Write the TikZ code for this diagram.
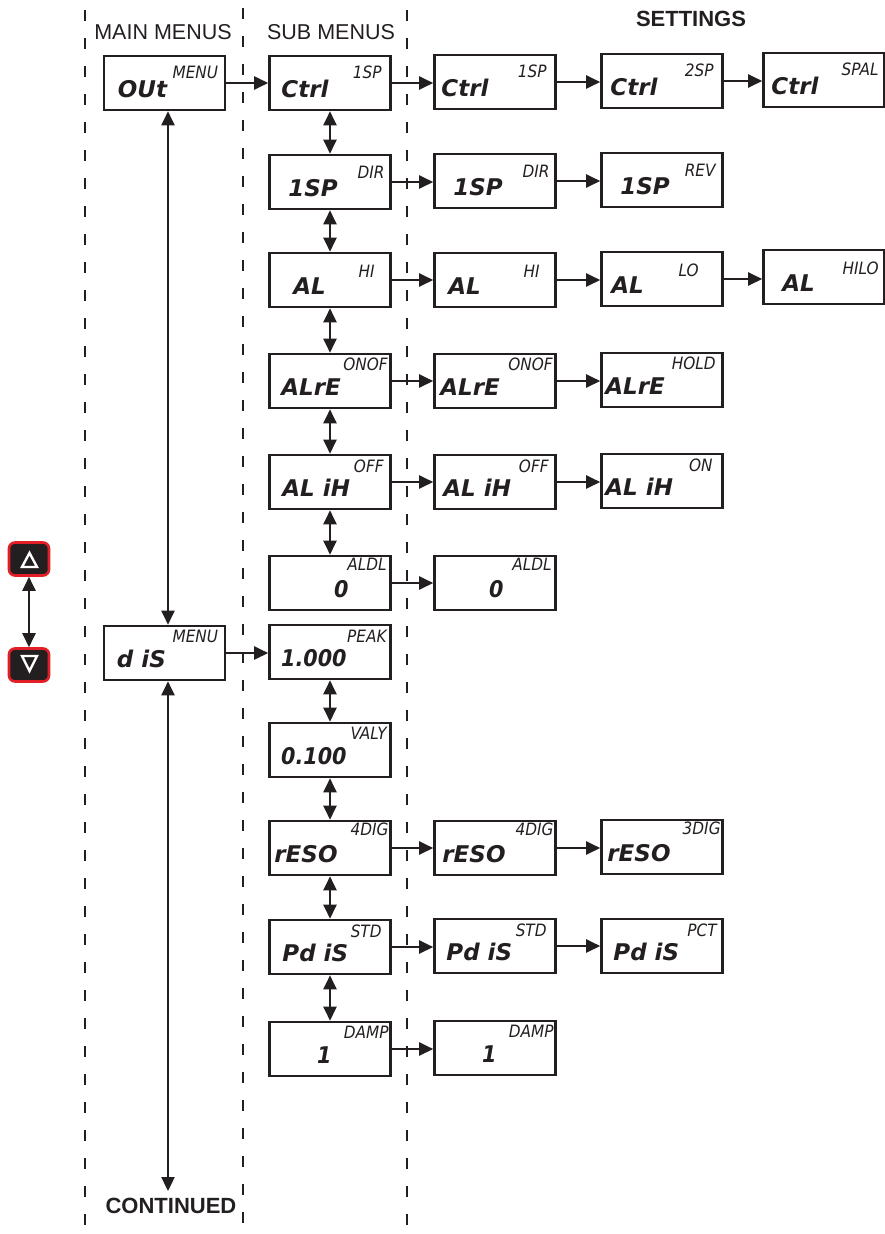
\documentclass[tikz,border=0pt]{standalone}
\usepackage{fontspec}
\setmainfont{Liberation Sans}
\newfontfamily\segfont{DejaVu Sans}
\newfontfamily\labfont{DejaVu Sans Condensed}
\usetikzlibrary{arrows.meta}
\definecolor{ink}{HTML}{231F20}
\definecolor{btnred}{HTML}{E21F26}
\tikzset{
  dbox/.style={draw=ink, line width=2.6pt, minimum width=121pt, minimum height=54pt, inner sep=0pt},
  dmain/.style={inner sep=0pt, text=ink, font=\segfont\bfseries\itshape\fontsize{23}{23}\selectfont},
  dnum/.style={inner sep=0pt, text=ink, font=\labfont\bfseries\itshape\fontsize{23}{23}\selectfont},
  dlab/.style={inner sep=0pt, text=ink, font=\labfont\itshape\fontsize{17}{17}\selectfont},
  conn/.style={draw=ink, line width=2.3pt, -{Triangle[length=14pt,width=13pt]}},
  dconn/.style={draw=ink, line width=2.3pt, {Triangle[length=14pt,width=13pt]}-{Triangle[length=14pt,width=13pt]}},
  vdash/.style={draw=ink, line width=2.8pt, dash pattern=on 11pt off 17pt},
  header/.style={inner sep=0pt, text=ink, font=\fontsize{21.5}{21.5}\selectfont},
  bheader/.style={inner sep=0pt, text=ink, font=\bfseries\fontsize{22}{22}\selectfont},
  btn/.style={draw=btnred, fill=ink, line width=2.6pt, rounded corners=6pt, minimum width=40pt, minimum height=33pt, inner sep=0pt},
  tri/.style={draw=white, line width=2.4pt, line join=miter}
}
% name, x, y, main, label, main x offset from left, label offset from right, label offset from top
\newcommand{\dboxL}[8]{%
  \node[dbox] (#1) at (#2,#3) {};
  \node[dmain, anchor=base west] (#1-m) at ([xshift=#6pt,yshift=14pt]#1.south west) {#4};
  \node[dlab, anchor=north east] (#1-l) at ([xshift=-#7pt,yshift=-#8pt]#1.north east) {#5};
}
% numeric display: main text right-aligned, x offset measured from right edge
\newcommand{\dboxR}[8]{%
  \node[dbox] (#1) at (#2,#3) {};
  \node[dnum, anchor=base east] (#1-m) at ([xshift=-#6pt,yshift=14pt]#1.south east) {#4};
  \node[dlab, anchor=north east] (#1-l) at ([xshift=-#7pt,yshift=-#8pt]#1.north east) {#5};
}
\begin{document}
\begin{tikzpicture}[x=1pt,y=-1pt]
\useasboundingbox (0,0) rectangle (885,1234);

% dashed column separators
\coordinate (d1t) at (85,10);  \coordinate (d1b) at (85,1234);
\coordinate (d2t) at (243,8);  \coordinate (d2b) at (243,1234);
\coordinate (d3t) at (407,10); \coordinate (d3b) at (407,1234);
\draw[vdash] (d1t) -- (d1b);
\draw[vdash] (d2t) -- (d2b);
\draw[vdash] (d3t) -- (d3b);

% headers
\node[header, anchor=base] (hmain) at (163,39) {MAIN MENUS};
\node[header, anchor=base] (hsub) at (331,39) {SUB MENUS};
\node[bheader, anchor=base] (hset) at (691,27) {SETTINGS};

% main menus
\dboxL{out}{164.5}{83}{OUt}{MENU}{15}{8}{11}
\dboxL{dis}{164.5}{653}{d iS}{MENU}{14}{8}{5}

% sub menus
\dboxL{s1}{330}{83}{Ctrl}{1SP}{13}{10}{11}
\dboxL{s2}{330}{182}{1SP}{DIR}{20}{7}{12}
\dboxL{s3}{330}{280}{AL}{HI}{25}{17}{13}
\dboxL{s4}{330}{381}{ALrE}{ONOF}{13}{4}{5}
\dboxL{s5}{330}{482}{AL iH}{OFF}{14}{8}{6}
\dboxR{s6}{330}{583}{0}{ALDL}{43}{5}{3}
\dboxR{s7}{330}{652}{1.000}{PEAK}{45}{5}{6}
\dboxR{s8}{330}{750}{0.100}{VALY}{45}{5}{5}
\dboxL{s9}{330}{848}{rESO}{4DIG}{6}{3}{3}
\dboxL{s10}{330}{947}{Pd iS}{STD}{14}{10}{6}
\dboxR{s11}{330}{1049}{1}{DAMP}{60}{3}{5}

% settings column 1
\dboxL{a1}{495}{82}{Ctrl}{1SP}{8}{10}{11}
\dboxL{a2}{495}{181}{1SP}{DIR}{20}{7}{12}
\dboxL{a3}{495}{280}{AL}{HI}{15}{17}{13}
\dboxL{a4}{495}{381}{ALrE}{ONOF}{7}{4}{5}
\dboxL{a5}{495}{482}{AL iH}{OFF}{10}{8}{6}
\dboxR{a6}{495}{583}{0}{ALDL}{53}{5}{3}
\dboxL{a9}{495}{848}{rESO}{4DIG}{9}{3}{3}
\dboxL{a10}{495}{946}{Pd iS}{STD}{13}{10}{6}
\dboxR{a11}{495}{1048}{1}{DAMP}{60}{3}{5}

% settings column 2
\dboxL{b1}{662}{81}{Ctrl}{2SP}{10}{10}{11}
\dboxL{b2}{662}{180}{1SP}{REV}{20}{8}{12}
\dboxL{b3}{662}{279}{AL}{LO}{11}{25}{13}
\dboxL{b4}{662}{380}{ALrE}{HOLD}{5}{8}{5}
\dboxL{b5}{662}{481}{AL iH}{ON}{5}{11}{6}
\dboxL{b9}{662}{847}{rESO}{3DIG}{7}{3}{3}
\dboxL{b10}{662}{946}{Pd iS}{PCT}{13}{7}{6}

% settings column 3
\dboxL{c1}{824}{80}{Ctrl}{SPAL}{9}{7}{11}
\dboxL{c3}{824}{277}{AL}{HILO}{20}{7}{13}

% horizontal connectors
\draw[conn] (out.east) -- (out.east -| s1.west);
\draw[conn] (dis.east) -- (dis.east -| s7.west);
\draw[conn] (s1.east) -- (s1.east -| a1.west);
\draw[conn] (a1.east) -- (a1.east -| b1.west);
\draw[conn] (b1.east) -- (b1.east -| c1.west);
\draw[conn] (s2.east) -- (s2.east -| a2.west);
\draw[conn] (a2.east) -- (a2.east -| b2.west);
\draw[conn] (s3.east) -- (s3.east -| a3.west);
\draw[conn] (a3.east) -- (a3.east -| b3.west);
\draw[conn] (b3.east) -- (b3.east -| c3.west);
\draw[conn] (s4.east) -- (s4.east -| a4.west);
\draw[conn] (a4.east) -- (a4.east -| b4.west);
\draw[conn] (s5.east) -- (s5.east -| a5.west);
\draw[conn] (a5.east) -- (a5.east -| b5.west);
\draw[conn] (s6.east) -- (s6.east -| a6.west);
\draw[conn] (s9.east) -- (s9.east -| a9.west);
\draw[conn] (a9.east) -- (a9.east -| b9.west);
\draw[conn] (s10.east) -- (s10.east -| a10.west);
\draw[conn] (a10.east) -- (a10.east -| b10.west);
\draw[conn] (s11.east) -- (s11.east -| a11.west);

% vertical connectors in sub menu column
\draw[dconn] (s1.south) -- (s2.north);
\draw[dconn] (s2.south) -- (s3.north);
\draw[dconn] (s3.south) -- (s4.north);
\draw[dconn] (s4.south) -- (s5.north);
\draw[dconn] (s5.south) -- (s6.north);
\draw[dconn] (s7.south) -- (s8.north);
\draw[dconn] (s8.south) -- (s9.north);
\draw[dconn] (s9.south) -- (s10.north);
\draw[dconn] (s10.south) -- (s11.north);

% main column vertical connectors
\coordinate (contarrow) at (168,1191);
\draw[dconn] ([xshift=3.5pt]out.south) -- ([xshift=3.5pt]dis.north);
\draw[dconn] ([xshift=3.5pt]dis.south) -- (contarrow);
\node[bheader, anchor=base] (cont) at (171,1213) {CONTINUED};

% buttons
\node[btn] (up) at (29,559) {};
\node[btn] (down) at (29,665) {};
\draw[tri] (22,567) -- (37,567) -- (29.5,553) -- cycle;
\draw[tri] (22,656) -- (37,656) -- (29.5,671) -- cycle;
\draw[dconn] (up.south) -- (down.north);
\end{tikzpicture}
\end{document}
